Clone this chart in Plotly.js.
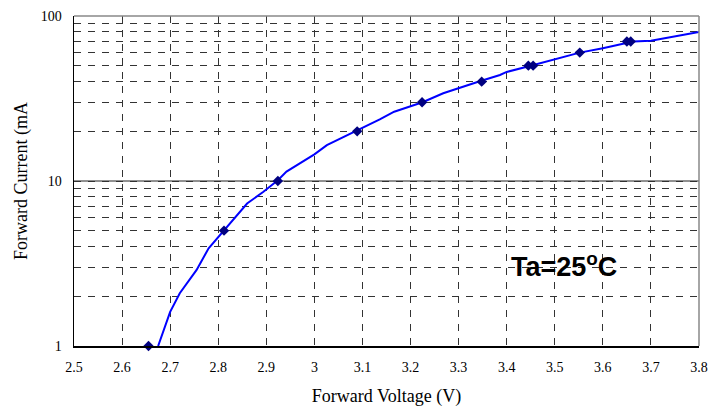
<!DOCTYPE html>
<html>
<head>
<meta charset="utf-8">
<script src="https://cdn.plot.ly/plotly-3.0.1.min.js"></script>
<style>html,body{margin:0;padding:0;background:#fff;}#chart{width:710px;height:409px;}</style>
</head>
<body>
<div id="chart"></div>
<script>
// Fitted curve
const curveV = [2.675, 2.70, 2.72, 2.755, 2.78, 2.812, 2.86, 2.894, 2.924, 2.942, 2.98, 3.0, 3.026, 3.09, 3.136, 3.166, 3.225, 3.268, 3.303, 3.344, 3.386, 3.4, 3.45, 3.5, 3.552, 3.6, 3.663, 3.7, 3.8];
const curveI = [1, 1.61, 2.09, 2.89, 3.91, 5, 7.3, 8.6, 10.1, 11.4, 13.4, 14.5, 16.5, 20.2, 23.6, 26.3, 30, 34, 36.8, 40.2, 43.9, 45.8, 50, 54.6, 60, 63.7, 70, 70.8, 80];
// Measured points
const measV = [2.655, 2.812, 2.924, 3.089, 3.224, 3.348, 3.445, 3.455, 3.552, 3.650, 3.658];
const measI = [1, 5, 10, 20, 30, 40, 50, 50, 60, 70, 70];
// Axis ticks
const xTicks = [2.5, 2.6, 2.7, 2.8, 2.9, 3, 3.1, 3.2, 3.3, 3.4, 3.5, 3.6, 3.7, 3.8];
const xTickText = ['2.5', '2.6', '2.7', '2.8', '2.9', '3', '3.1', '3.2', '3.3', '3.4', '3.5', '3.6', '3.7', '3.8'];
const yTicks = [1, 2, 3, 4, 5, 6, 7, 8, 9, 10, 20, 30, 40, 50, 60, 70, 80, 90, 100];
const yTickText = ['1', '', '', '', '', '', '', '', '', '10', '', '', '', '', '', '', '', '', '100'];

const serif = "'Liberation Serif', 'Times New Roman', serif";
const data = [
  {x: curveV, y: curveI, mode: 'lines', line: {color: '#0000ff', width: 2}, hoverinfo: 'skip'},
  {x: measV, y: measI, mode: 'markers', marker: {symbol: 'diamond', size: 8, color: '#000080'}, cliponaxis: false}
];
const layout = {
  width: 710, height: 409,
  margin: {l: 74, r: 11, t: 16, b: 63},
  paper_bgcolor: '#fff', plot_bgcolor: '#fff',
  showlegend: false,
  font: {family: serif, size: 13, color: '#000'},
  xaxis: {
    type: 'linear', range: [2.5, 3.8], tickmode: 'array', tickvals: xTicks, ticktext: xTickText,
    showgrid: true, gridcolor: '#333', griddash: '7px,7px', gridwidth: 1,
    showline: true, linecolor: '#000', linewidth: 1.5, ticks: '', zeroline: false,
    ticklabelstandoff: 8,
    tickfont: {family: serif, size: 14},
    title: {text: 'Forward Voltage (V)', font: {family: serif, size: 18}, standoff: 15}
  },
  yaxis: {
    type: 'log', range: [0, 2], tickmode: 'array', tickvals: yTicks, ticktext: yTickText,
    showgrid: true, gridcolor: '#333', griddash: '7px,7px', gridwidth: 1,
    showline: true, linecolor: '#000', linewidth: 1.5, ticks: '', zeroline: false,
    ticklabelstandoff: 8,
    tickfont: {family: serif, size: 14},
    title: {text: 'Forward Current (mA', font: {family: serif, size: 18}, standoff: 8}
  },
  shapes: [
    {type: 'line', xref: 'paper', yref: 'y', x0: 0, x1: 1, y0: 10, y1: 10, line: {color: '#222', width: 1}, layer: 'below'},
    {type: 'line', xref: 'paper', yref: 'paper', x0: 0, x1: 1, y0: 1, y1: 1, line: {color: '#888', width: 1.5}},
    {type: 'line', xref: 'paper', yref: 'paper', x0: 1, x1: 1, y0: 0, y1: 1, line: {color: '#888', width: 1.5}}
  ],
  annotations: [
    {xref: 'x', yref: 'y', x: 3.52, y: 0.49, text: '<b>Ta=25<sup>o</sup>C</b>', showarrow: false,
     font: {family: "'Liberation Sans', Arial, sans-serif", size: 27, color: '#000'}, xanchor: 'center', yanchor: 'middle'}
  ]
};
Plotly.newPlot('chart', data, layout, {displayModeBar: false, staticPlot: true});
</script>
</body>
</html>
